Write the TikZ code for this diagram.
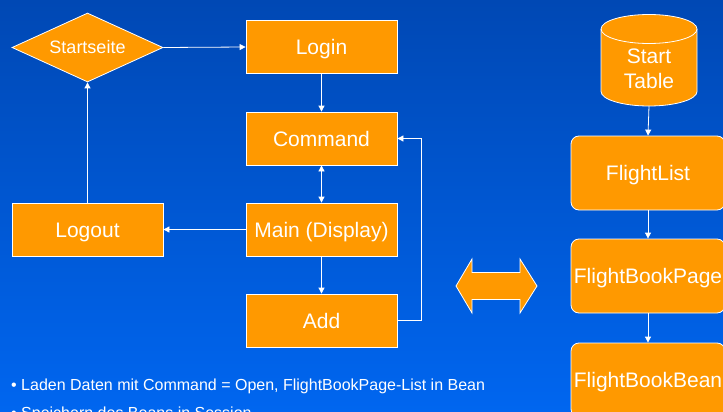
\documentclass[tikz,border=0pt]{standalone}
\usepackage{fontspec}
\setmainfont{Liberation Sans}
\usetikzlibrary{shapes.geometric,arrows.meta}
\definecolor{bgtop}{RGB}{0,72,180}
\definecolor{bgbot}{RGB}{0,102,240}
\definecolor{orng}{RGB}{255,153,0}
\tikzset{
  box/.style={draw=white,line width=0.8pt,fill=orng,text=white,minimum width=151pt,minimum height=53pt,inner sep=0pt,text height=15pt,text depth=0pt,font=\fontsize{21}{25}\selectfont},
  rbox/.style={draw=white,line width=0.8pt,fill=orng,text=white,minimum width=154pt,minimum height=74pt,inner sep=0pt,text height=15pt,text depth=0pt,rounded corners=8pt,font=\fontsize{21}{25}\selectfont},
  dia/.style={diamond,draw=white,line width=0.8pt,fill=orng,text=white,minimum width=151pt,minimum height=69pt,inner sep=0pt,text height=13pt,text depth=0pt,aspect=2.19,font=\fontsize{18}{22}\selectfont},
  arr/.style={draw=white,line width=0.8pt,-{Triangle[length=6pt,width=6pt]}},
  darr/.style={draw=white,line width=0.8pt,{Triangle[length=6pt,width=6pt]}-{Triangle[length=6pt,width=6pt]}},
  note/.style={text=white,anchor=base west,inner sep=0pt,font=\fontsize{16}{19}\selectfont}
}
\begin{document}
\begin{tikzpicture}[x=1pt,y=-1pt]
\useasboundingbox (0,0) rectangle (723,412);
\clip (0,0) rectangle (723,412);
\shade[top color=bgtop,bottom color=bgbot] (0,0) rectangle (723,412);
% left flow
\node[dia] (startseite) at (87.5,47.5) {Startseite};
\node[box] (login) at (321.5,47) {Login};
\node[box] (command) at (321.5,138.5) {Command};
\node[box] (main) at (321.5,229.5) {Main (Display)};
\node[box] (logout) at (87.5,229.5) {Logout};
\node[box] (add) at (321.5,320.5) {Add};
\draw[arr] (startseite.east) -- (login.west);
\draw[arr] (login.south) -- (command.north);
\draw[darr] (command.south) -- (main.north);
\draw[arr] (main.west) -- (logout.east);
\draw[arr] (main.south) -- (add.north);
\draw[arr] (logout.north) -- (startseite.south);
\draw[arr] (add.east) -- ++(24,0) |- (command.east);
% double arrow
\draw[fill=orng,draw=white,line width=0.8pt] (456,286) -- (472,259) -- (472,272.5) -- (520,272.5) -- (520,259) -- (537,286) -- (520,313) -- (520,299.5) -- (472,299.5) -- (472,313) -- cycle;
% cylinder
\draw[fill=orng,draw=white,line width=0.8pt] (601,29) -- (601,91.5) arc[start angle=180,end angle=0,x radius=48,y radius=14.5] -- (697,29) arc[start angle=0,end angle=-180,x radius=48,y radius=14.5] -- cycle;
\draw[white,line width=0.8pt] (601,29) arc[start angle=180,end angle=0,x radius=48,y radius=14.5];
\node[text=white,align=center,font=\fontsize{21}{25}\selectfont,inner sep=0pt] (start) at (649,69) {Start\\Table};
\coordinate (startbot) at (649,106);
% right column
\node[rbox] (flightlist) at (648,173) {FlightList};
\node[rbox] (fbpage) at (648,276) {FlightBookPage};
\node[rbox] (fbbean) at (648,380) {FlightBookBean};
\draw[arr] (startbot) -- (flightlist.north);
\draw[arr] (flightlist.south) -- (fbpage.north);
\draw[arr] (fbpage.south) -- (fbbean.north);
% notes
\node[note] (n1) at (11,390.7) {• Laden Daten mit Command = Open, FlightBookPage-List in Bean};
\node[note] (n2) at (11,418.5) {• Speichern des Beans in Session};
\end{tikzpicture}
\end{document}
